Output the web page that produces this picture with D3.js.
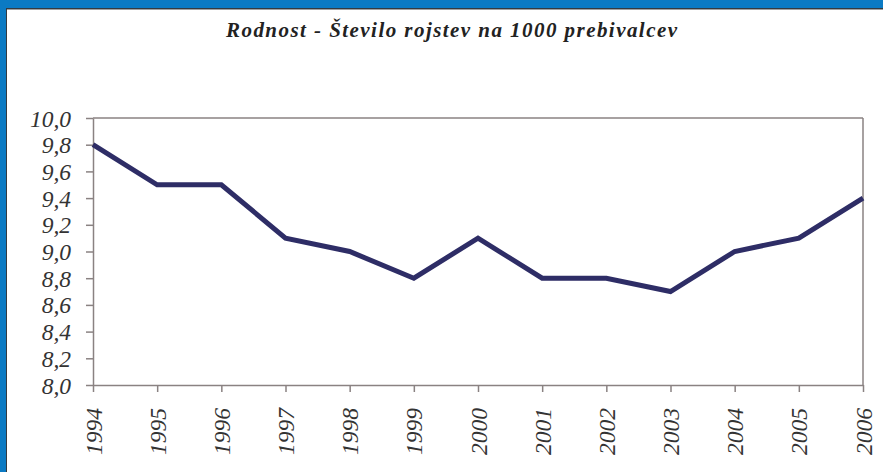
<!DOCTYPE html>
<html>
<head>
<meta charset="utf-8">
<script src="https://cdn.jsdelivr.net/npm/d3@7"></script>
<style>
  html, body { margin: 0; padding: 0; background: #0B7AC3; }
  svg { display: block; }
</style>
</head>
<body>
<svg id="chart" width="883" height="472"></svg>
<script>
// Birth rate per 1000 inhabitants
const years = [1994, 1995, 1996, 1997, 1998, 1999, 2000, 2001, 2002, 2003, 2004, 2005, 2006];
const rates = [9.8, 9.5, 9.5, 9.1, 9.0, 8.8, 9.1, 8.8, 8.8, 8.7, 9.0, 9.1, 9.4];
const yTicks = [8.0, 8.2, 8.4, 8.6, 8.8, 9.0, 9.2, 9.4, 9.6, 9.8, 10.0];
const title = "Rodnost - Število rojstev na 1000 prebivalcev";

const W = 883, H = 472;
const plot = { left: 93, right: 863, top: 118, bottom: 385 };
const serif = "\"Liberation Serif\", \"Times New Roman\", serif";

const svg = d3.select("#chart");

// white panel with dark/grey inner edge on a blue frame
svg.append("rect").attr("x", 0).attr("y", 0).attr("width", W).attr("height", H).attr("fill", "#0B7AC3");
svg.append("rect").attr("x", 6).attr("y", 8).attr("width", W).attr("height", H).attr("fill", "#333a40");
svg.append("rect").attr("x", 7).attr("y", 9).attr("width", W).attr("height", H).attr("fill", "#a0a0a0");
svg.append("rect").attr("x", 7).attr("y", 10).attr("width", W).attr("height", H).attr("fill", "#ffffff");

svg.append("text")
  .attr("x", 226).attr("y", 37)
  .attr("textLength", 451)
  .attr("lengthAdjust", "spacing")
  .style("font-family", serif)
  .style("font-style", "italic")
  .style("font-weight", "bold")
  .style("font-size", "21px")
  .attr("fill", "#222")
  .text(title);

const x = d3.scaleLinear().domain([years[0], years[years.length - 1]]).range([plot.left, plot.right]);
const y = d3.scaleLinear().domain([8, 10]).range([plot.bottom, plot.top]);

const axisColor = "#8a8282";

// frame top and right
svg.append("line").attr("x1", plot.left).attr("x2", plot.right).attr("y1", plot.top).attr("y2", plot.top)
  .attr("stroke", axisColor).attr("stroke-width", 1.5);
svg.append("line").attr("x1", plot.right).attr("x2", plot.right).attr("y1", plot.top).attr("y2", plot.bottom)
  .attr("stroke", axisColor).attr("stroke-width", 1.5);

// y axis
const yAxis = d3.axisLeft(y).tickValues(yTicks).tickSize(7).tickSizeOuter(0)
  .tickFormat(d => d3.format(".1f")(d).replace(".", ","));
const gy = svg.append("g").attr("transform", `translate(${plot.left},0)`).call(yAxis)
  .attr("font-family", null).attr("font-size", null);
gy.select(".domain").attr("stroke", axisColor).attr("stroke-width", 1.5);
gy.selectAll(".tick line").attr("stroke", axisColor).attr("stroke-width", 1.5);
gy.selectAll(".tick text")
  .attr("x", -22).attr("dy", "0.34em")
  .style("font-family", serif).style("font-style", "italic").style("font-size", "23.5px")
  .attr("fill", "#333");

// x axis
const xAxis = d3.axisBottom(x).tickValues(years).tickSize(7).tickSizeOuter(0).tickFormat(d3.format("d"));
const gx = svg.append("g").attr("transform", `translate(0,${plot.bottom})`).call(xAxis)
  .attr("font-family", null).attr("font-size", null);
gx.select(".domain").attr("stroke", axisColor).attr("stroke-width", 1.5);
gx.selectAll(".tick line").attr("stroke", axisColor).attr("stroke-width", 1.5);
gx.selectAll(".tick text")
  .attr("transform", "rotate(-90)")
  .attr("x", -23).attr("y", 0).attr("dy", "0.34em")
  .attr("text-anchor", "end")
  .style("font-family", serif).style("font-style", "italic").style("font-size", "23.5px")
  .attr("fill", "#333");

// data line
const line = d3.line().x((d, i) => x(years[i])).y(d => y(d));
svg.append("path")
  .datum(rates)
  .attr("d", line)
  .attr("fill", "none")
  .attr("stroke", "#2E2D66")
  .attr("stroke-width", 5)
  .attr("stroke-linejoin", "miter");
</script>
</body>
</html>
